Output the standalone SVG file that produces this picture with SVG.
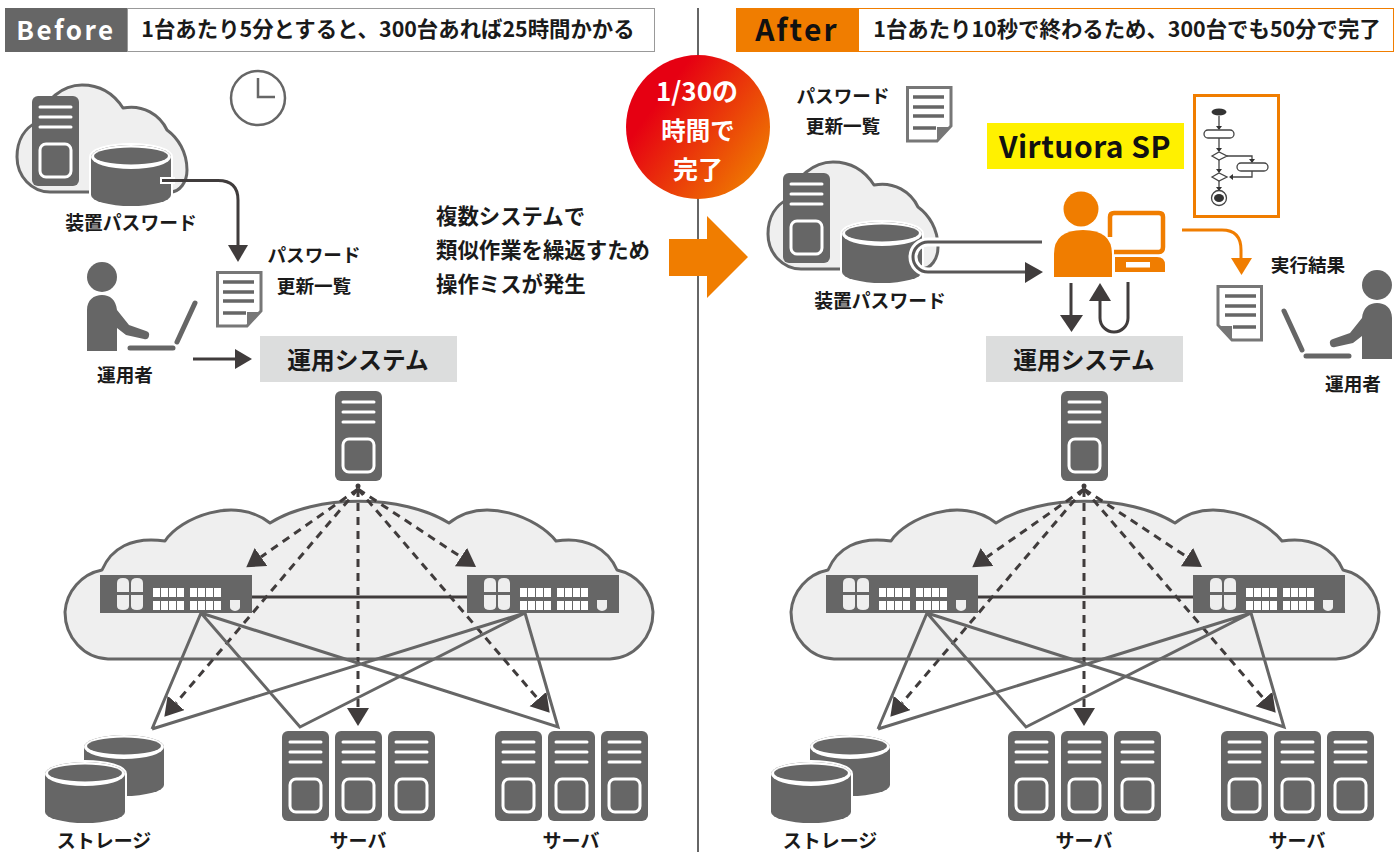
<svg xmlns="http://www.w3.org/2000/svg" xmlns:xlink="http://www.w3.org/1999/xlink" width="1399" height="852" viewBox="0 0 1399 852">
<style>
text{font-family:"Noto Sans CJK JP","Noto Sans",sans-serif;font-weight:700;fill:#1a1a1a;text-anchor:middle}
.l{font-size:18.800px}.m{font-size:18.600px}.s{font-size:19px}.b{font-size:23.700px}.h{font-size:21.400px}.n{font-size:21.400px;text-anchor:start}
.cloud{fill:#efefef;stroke:#666;stroke-width:3;stroke-linejoin:round}
.dash{fill:none;stroke:#403c3c;stroke-width:3;stroke-dasharray:8 6;marker-end:url(#tri)}
.link{fill:none;stroke:#666;stroke-width:3;stroke-linejoin:miter}
.dark{fill:none;stroke:#403c3c;stroke-width:3}
.hd{fill:#403c3c}
.or{fill:#f07d00}
.w{fill:#fff}
.fl{fill:none;stroke:#444;stroke-width:1.3}
.ff{fill:#fff;stroke:#444;stroke-width:1.3}
</style>
<defs>
<linearGradient id="grad" x1="0.15" y1="0.25" x2="0.95" y2="0.85"><stop offset="0.1" stop-color="#e60012"/><stop offset="1" stop-color="#ef7d00"/></linearGradient>
<marker id="tri" markerUnits="userSpaceOnUse" markerWidth="20" markerHeight="24" refX="0" refY="11" orient="auto"><path d="M0,0L18,11L0,22Z" fill="#403c3c"/></marker>
<g id="server"><rect width="47" height="90" rx="6" fill="#666"/><path d="M8,11H39M8,21H39M8,31H39" stroke="#fff" stroke-width="3" stroke-linecap="round"/><rect x="8" y="48" width="31" height="33" rx="6" fill="#666" stroke="#fff" stroke-width="3"/></g>
<g id="cyl"><path d="M0,12V50A40,11 0 0 0 80,50V12A40,12 0 0 0 0,12Z" fill="#666" stroke="#fff" stroke-width="4" paint-order="stroke"/><ellipse cx="40" cy="12" rx="40" ry="12" fill="#fff"/><ellipse cx="40" cy="11" rx="37" ry="8.500" fill="#666"/></g>
<g id="doc"><path d="M1.500,1.500H45V40L31,55H1.500Z" fill="#fff" stroke="#777" stroke-width="3"/><path d="M31,54V41H45Z" fill="#777"/><path d="M7,11H38M7,21H38M7,30H38" stroke="#666" stroke-width="3.500"/><path d="M7,42H30" stroke="#666" stroke-width="3.500"/></g>
<path id="bigcloud" class="cloud" d="M108,659A44,47 0 0 1 65,612A46,46 0 0 1 102,570C111,549 131,536 165,541C180,518 235,495 270,523C315,494 403,494 449,523C484,495 538,518 556,541C586,536 608,549 617,570A46,46 0 0 1 653,612A44,47 0 0 1 610,659Z"/>
<path id="smallcloud" class="cloud" d="M50,192A33,35 0 0 1 17,157C17,140 25,128 37,122C45,100 62,85 82,85C100,85 114,94 123,108C143,104 160,115 167,130C178,138 187,152 187,170C187,182 180,192 170,192Z"/>
<g id="switch"><rect width="152" height="38" fill="#666"/><path d="M17,17V8Q17,3 23,3Q29,3 29,8V17ZM31,17V8Q31,3 37,3Q43,3 43,8V17ZM17,20H29V31Q29,35 23,35Q17,35 17,31ZM31,20H43V31Q43,35 37,35Q31,35 31,31Z" fill="#eee"/><path d="M53,13h7v9h-7zM61,13h7v9h-7zM69,13h7v9h-7zM77,13h7v9h-7zM90,13h7v9h-7zM98,13h7v9h-7zM106,13h7v9h-7zM114,13h7v9h-7zM53,26h7v9h-7zM61,26h7v9h-7zM69,26h7v9h-7zM77,26h7v9h-7zM90,26h7v9h-7zM98,26h7v9h-7zM106,26h7v9h-7zM114,26h7v9h-7z" fill="#fff"/><path d="M130,25h10v7q0,3 -5,4q-5,-1 -5,-4z" fill="#eee"/></g>
<g id="person"><circle cx="102" cy="277" r="15" fill="#666"/><path d="M87,351V310C87,300 94,295 102,295C110,295 116,300 117,310L129,325L146,331A4,4 0 0 1 144,339L126,335L117,328V351Z" fill="#666"/><path d="M130,348H173M177,342L195,303" stroke="#666" stroke-width="5" stroke-linecap="round"/></g>
<g id="net">
<use href="#bigcloud"/>
<g>
<path class="dash" d="M358,489L261,557"/><path class="dash" d="M358,489L461,557"/><path class="dash" d="M358,489L176,703"/><path class="dash" d="M358,489V708"/><path class="dash" d="M358,489L538,699"/>
<circle cx="358" cy="486" r="2.500" fill="#403c3c"/>
<path class="dark" d="M252,597H467"/>
<path class="link" d="M152,729L201,613L300,727L525,613L558,727L201,613M152,729L525,613"/>
</g>
<use href="#switch" x="100" y="575"/><use href="#switch" x="467" y="575"/>
<use href="#server" x="335" y="391"/>
<use href="#cyl" x="84" y="735"/><use href="#cyl" x="45" y="762"/>
<use href="#server" x="282" y="731"/><use href="#server" x="335" y="731"/><use href="#server" x="388" y="731"/>
<use href="#server" x="495" y="731"/><use href="#server" x="548" y="731"/><use href="#server" x="601" y="731"/>
</g>
</defs>

<g id="divider"><path d="M698,8V852" stroke="#666" stroke-width="2"/></g>

<g id="before-header"><rect x="5" y="8" width="122" height="44" fill="#666"/><rect x="127.500" y="8.500" width="527" height="43" fill="#fff" stroke="#999"/><text x="66" y="40" font-size="26" letter-spacing="2.500" style="fill:#fff">Before</text><text x="388" y="37" class="h">1台あたり5分とすると、300台あれば25時間かかる</text></g>
<g id="after-header"><rect x="736" y="8" width="122" height="44" class="or"/><rect x="858.500" y="8.500" width="535" height="43" fill="#fff" stroke="#f07d00"/><text x="797" y="41" font-size="30" letter-spacing="2.200" style="fill:#111">After</text><text x="1127" y="37" class="h">1台あたり10秒で終わるため、300台でも50分で完了</text></g>

<g id="before-network"><use href="#net"/><text x="104" y="848" class="s">ストレージ</text><text x="358" y="848" class="s">サーバ</text><text x="571" y="848" class="s">サーバ</text></g>
<g id="after-network"><use href="#net" x="726"/><text x="830" y="848" class="s">ストレージ</text><text x="1084" y="848" class="s">サーバ</text><text x="1297" y="848" class="s">サーバ</text></g>

<g id="before-system"><rect x="260" y="336" width="197" height="46" fill="#dcdddd"/><text x="358" y="369" class="b">運用システム</text></g>
<g id="after-system"><rect x="986" y="336" width="197" height="46" fill="#dcdddd"/><text x="1084" y="369" class="b">運用システム</text></g>

<g id="before-source"><use href="#smallcloud"/><use href="#server" x="32" y="96"/><use href="#cyl" x="91" y="145"/><text x="131" y="230" class="l">装置パスワード</text></g>
<g id="clock"><circle cx="258" cy="98" r="27" fill="#fff" stroke="#666" stroke-width="2.500"/><path d="M258,78V97H275" fill="none" stroke="#666" stroke-width="2.500"/></g>
<g id="before-doc"><use href="#doc" x="216" y="271"/><text x="314" y="262" class="m">パスワード</text><text x="314" y="293" class="m">更新一覧</text></g>
<g id="before-operator"><use href="#person"/><text x="125" y="382" class="m">運用者</text></g>

<g id="note"><text x="436" y="224" class="n">複数システムで</text><text x="436" y="258" class="n">類似作業を繰返すため</text><text x="436" y="292" class="n">操作ミスが発生</text></g>

<g id="badge"><circle cx="698" cy="127" r="72" fill="url(#grad)"/><text x="697" y="101" font-size="26" style="fill:#fff">1/30の</text><text x="698" y="140" font-size="24.500" style="fill:#fff">時間で</text><text x="698" y="179" font-size="25" style="fill:#fff">完了</text></g>
<g id="big-arrow"><path d="M669,239H707V216L748,257L707,298V276H669Z" class="or"/></g>

<g id="after-doc"><use href="#doc" x="906" y="86"/><text x="843" y="103" class="m">パスワード</text><text x="843" y="133" class="m">更新一覧</text></g>
<g id="after-source"><use href="#smallcloud" transform="translate(751,77)"/><use href="#server" x="783" y="173"/><use href="#cyl" x="842" y="222"/><text x="880" y="308" class="l">装置パスワード</text></g>
<g id="virtuora"><rect x="987" y="123" width="197" height="46" fill="#fff100"/><text x="1085" y="158" font-size="30" letter-spacing="0.500" style="fill:#111">Virtuora SP</text></g>
<g id="flow"><rect x="1194.500" y="95.500" width="84" height="121" fill="#fff" stroke="#f07d00" stroke-width="3"/>
<ellipse cx="1219" cy="112" rx="7.500" ry="3.500" fill="#333"/>
<path class="fl" d="M1219,116V129M1219,138V151M1219,160V172M1219,181V189M1227,156H1252V162M1252,171V177H1233"/>
<path d="M1216,126h6l-3,4zM1216,148h6l-3,4zM1216,169h6l-3,4zM1216,187h6l-3,4zM1249,159h6l-3,4zM1233,174v6l-4,-3z" fill="#333"/>
<rect class="ff" x="1204" y="130" width="30" height="8" rx="4"/><rect class="ff" x="1237" y="163" width="31" height="8" rx="4"/>
<path class="ff" d="M1212,156L1219,152L1227,156L1219,160ZM1212,177L1219,173L1227,177L1219,181Z"/>
<circle cx="1219" cy="198" r="7.500" class="ff"/><ellipse cx="1219" cy="198" rx="5" ry="4" fill="#333"/></g>
<g id="orange-operator"><ellipse cx="1081" cy="209" rx="17.500" ry="17.500" class="or"/><path d="M1054,277V254Q1054,230 1083,230Q1112,230 1112,254V277Z" class="or"/><path d="M1114,213H1163V251H1116" fill="#fff"/><path d="M1110,237V217Q1110,213 1114,213H1159Q1163,213 1163,217V247Q1163,252 1159,252H1114" fill="none" stroke="#f07d00" stroke-width="4.500"/><path d="M1115,257H1157Q1165,257 1165,265V272H1115Z" class="or"/><rect x="1126" y="262" width="24" height="5.500" fill="#fff"/></g>
<g id="after-result"><text x="1308" y="272" class="m">実行結果</text><use href="#doc" transform="translate(1263,285) scale(-1,1)"/></g>
<g id="after-user"><use href="#person" transform="translate(1479,8) scale(-1,1)"/><text x="1353" y="391" class="m">運用者</text></g>

<g id="connectors">
<path d="M160,180.500H175" stroke="#fff" stroke-width="7"/>
<path class="dark" d="M162,180.500H218Q238,180.500 238,200V246"/><path class="hd" d="M228,245H248L238,262Z"/>
<path class="dark" d="M193,359H236"/><path class="hd" d="M235,349L252,359L235,369Z"/>
<path d="M1042,242H928A15,15 0 0 0 928,272H1028" fill="none" stroke="#fff" stroke-width="9"/>
<path d="M1042,242H928A15,15 0 0 0 928,272H1028" fill="none" stroke="#595757" stroke-width="3"/><path class="hd" d="M1025,262L1043,272L1025,283Z"/>
<path class="dark" d="M1071,283V316"/><path class="hd" d="M1060,315H1083L1071.500,332Z"/>
<path class="dark" d="M1100,300V318A14,14 0 0 0 1128,318V282"/><path class="hd" d="M1089,301H1111L1100,283Z"/>
<path d="M1182,230H1222Q1241,230 1241,250V259" fill="none" stroke="#f07d00" stroke-width="3"/><path class="or" d="M1231,258H1252L1241.500,275Z"/>
</g>
</svg>
